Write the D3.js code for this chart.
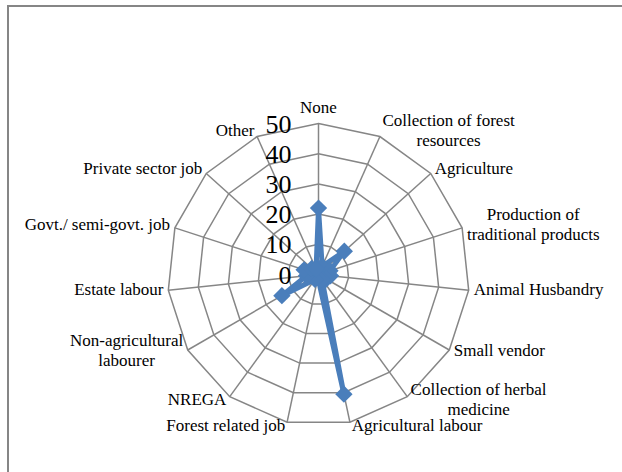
<!DOCTYPE html>
<html>
<head>
<meta charset="utf-8">
<script src="https://cdn.jsdelivr.net/npm/d3@7"></script>
<style>
  html, body { margin: 0; padding: 0; background: #fff; }
  svg { display: block; }
  svg text { font-family: 'Liberation Serif', 'Times New Roman', serif; }
</style>
</head>
<body>
<svg id="chart"></svg>
<script>
// categories (line breaks as in the original labels)
const categories = [
  "None",
  "Collection of forest\nresources",
  "Agriculture",
  "Production of\ntraditional products",
  "Animal Husbandry",
  "Small vendor",
  "Collection of herbal\nmedicine",
  "Agricultural labour",
  "Forest related job",
  "NREGA",
  "Non-agricultural\nlabourer",
  "Estate labour",
  "Govt./ semi-govt. job",
  "Private sector job",
  "Other"
];
const values = [22, 3, 11.5, 4, 4, 3, 2, 40.5, 1, 2, 14, 4, 5, 3, 2];
const tickValues = [0, 10, 20, 30, 40, 50];

const width = 622, height = 472;
const cx = 318.5, cy = 274.5, radius = 151;
const gridColor = "#868686";
const seriesColor = "#4a7ebb";
const serif = "'Liberation Serif', 'Times New Roman', serif";

const svg = d3.select("#chart").attr("width", width).attr("height", height);

// outer frame (only left and top edges are inside the picture)
svg.append("path")
  .attr("d", `M8,${height} V6 H${width}`)
  .attr("fill", "none")
  .attr("stroke", gridColor)
  .attr("stroke-width", 2);

const rscale = d3.scaleLinear().domain([0, 50]).range([0, radius]);
const ascale = d3.scaleLinear().domain([0, categories.length]).range([0, 2 * Math.PI]);

const pt = (i, v) => {
  const a = ascale(i), r = rscale(v);
  return [cx + r * Math.sin(a), cy - r * Math.cos(a)];
};

const chart = svg.append("g");

// grid rings
chart.selectAll("path.ring")
  .data(tickValues.filter(t => t > 0))
  .join("path")
  .attr("class", "ring")
  .attr("d", t => d3.line()(categories.map((c, i) => pt(i, t))) + "Z")
  .attr("fill", "none")
  .attr("stroke", gridColor)
  .attr("stroke-width", 1.5);

// spokes
chart.selectAll("line.spoke")
  .data(categories)
  .join("line")
  .attr("class", "spoke")
  .attr("x1", cx).attr("y1", cy)
  .attr("x2", (d, i) => pt(i, 50)[0])
  .attr("y2", (d, i) => pt(i, 50)[1])
  .attr("stroke", gridColor)
  .attr("stroke-width", 1.5);

// series line
chart.append("path")
  .attr("d", d3.line()(values.map((v, i) => pt(i, v))) + "Z")
  .attr("fill", "none")
  .attr("stroke", seriesColor)
  .attr("stroke-width", 5)
  .attr("stroke-linejoin", "round");

// diamond markers
chart.selectAll("path.marker")
  .data(values)
  .join("path")
  .attr("class", "marker")
  .attr("d", d3.symbol(d3.symbolSquare, 150))
  .attr("transform", (v, i) => `translate(${pt(i, v)}) rotate(45)`)
  .attr("fill", seriesColor);

// value axis labels
chart.selectAll("text.tick")
  .data(tickValues)
  .join("text")
  .attr("class", "tick")
  .attr("x", cx - 27)
  .attr("y", t => cy - rscale(t))
  .attr("dy", "0.35em")
  .attr("text-anchor", "end")
  .style("font-family", serif)
  .style("font-size", "26px")
  .attr("fill", "#000")
  .text(t => t);

// category labels
const lineH = 20;
const labels = chart.selectAll("text.cat")
  .data(categories)
  .join("text")
  .attr("class", "cat")
  .style("font-family", serif)
  .style("font-size", "17px")
  .attr("fill", "#000");

labels.each(function(d, i) {
  const t = d3.select(this);
  const lines = d.split("\n");
  lines.forEach(l => t.append("tspan").text(l));
  const tspans = t.selectAll("tspan");
  let w = 0;
  tspans.each(function() { w = Math.max(w, this.getComputedTextLength()); });
  const h = lines.length * lineH;
  const a = ascale(i);
  const s = Math.sin(a), c = Math.cos(a);
  const [vx, vy] = pt(i, 50);
  let xc, yc;
  if (Math.abs(s) < 1e-6) {
    xc = vx;
    yc = vy - h / 2 - 6;
  } else {
    const pad = 1 + 4 * Math.abs(s);
    xc = s > 0 ? vx + pad + w / 2 : vx - pad - w / 2;
    yc = vy - 5 * c - 2;
  }
  tspans
    .attr("x", xc)
    .attr("text-anchor", "middle")
    .attr("y", (l, j) => yc - h / 2 + lineH * j + lineH / 2)
    .attr("dy", "0.35em");
});
</script>
</body>
</html>
